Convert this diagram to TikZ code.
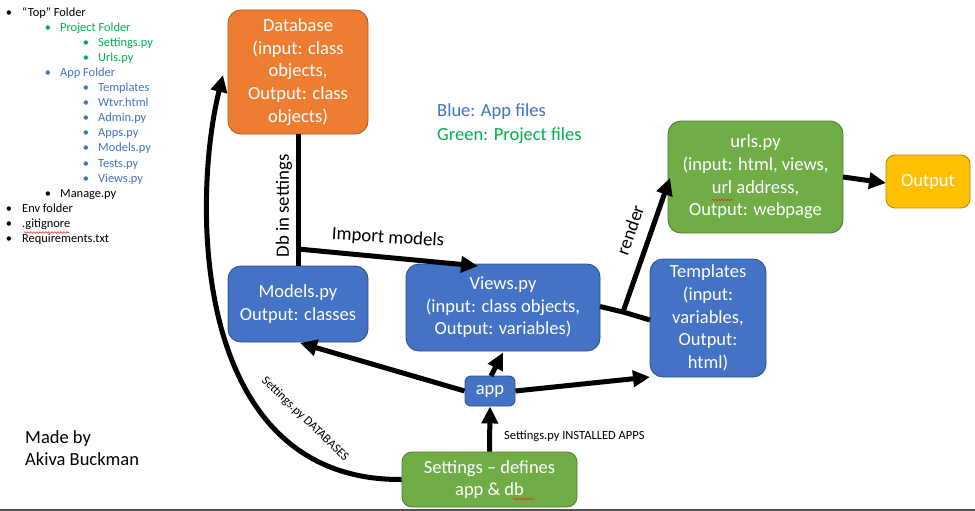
\documentclass[tikz,border=0pt]{standalone}
\usepackage{fontspec}
\setmainfont{Carlito}
\usetikzlibrary{arrows.meta,decorations.pathmorphing}
\definecolor{oran}{HTML}{ED7D31}
\definecolor{oranb}{HTML}{AE5A21}
\definecolor{blu}{HTML}{4472C4}
\definecolor{blub}{HTML}{2F528F}
\definecolor{grn}{HTML}{70AD47}
\definecolor{grnb}{HTML}{507E32}
\definecolor{yel}{HTML}{FFC000}
\definecolor{yelb}{HTML}{BC8C00}
\definecolor{gtext}{HTML}{00B050}
\definecolor{btext}{HTML}{4472C4}
\definecolor{squig}{HTML}{E03030}
\newcommand{\bigfont}{\fontsize{18.5}{22.6}\selectfont}
\newcommand{\midfont}{\fontsize{18.8}{22}\selectfont}
\newcommand{\listfont}{\fontsize{12.4}{15}\selectfont}
\newcommand{\smallfont}{\fontsize{12.5}{14}\selectfont}
\tikzset{
  boxst/.style={draw, line width=0.9pt, rounded corners=13pt, text=white, align=center,
    font=\bigfont, inner sep=0pt},
  conn/.style={line width=5pt, draw=black},
  arr/.style={conn, -{Triangle[length=17pt,width=16pt]}},
  plain/.style={inner sep=0pt},
  wavy/.style={draw=squig, line width=0.6pt, decorate, decoration={snake, amplitude=0.8pt, segment length=3pt}}
}
\begin{document}
\begin{tikzpicture}[x=1pt,y=-1pt]
\useasboundingbox (0,0) rectangle (975,511);
\fill[white] (0,0) rectangle (975,511);
\fill[black!68] (0,508.5) rectangle (975,511);

% ---- folder list ----
\foreach \i/\lev/\col/\txt in {
  0/0/black/{“Top” Folder},
  1/1/gtext/{Project Folder},
  2/2/gtext/{Settings.py},
  3/2/gtext/{Urls.py},
  4/1/btext/{App Folder},
  5/2/btext/{Templates},
  6/2/btext/{Wtvr.html},
  7/2/btext/{Admin.py},
  8/2/btext/{Apps.py},
  9/2/btext/{Models.py},
  10/2/btext/{Tests.py},
  11/2/btext/{Views.py},
  12/1/black/{Manage.py},
  13/0/black/{Env folder},
  14/0/black/{.gitignore},
  15/0/black/{Requirements.txt}}{
  \pgfmathsetmacro{\by}{16.3+15.07*\i}
  \pgfmathsetmacro{\bx}{\lev==0 ? 9 : (\lev==1 ? 48 : 86)}
  \pgfmathsetmacro{\tx}{\lev==0 ? 22 : (\lev==1 ? 60 : 98)}
  \node[plain, anchor=base, text=\col, font=\listfont] (bul\i) at (\bx,\by) {•};
  \node[plain, anchor=base west, text=\col, font=\listfont] (item\i) at (\tx,\by) {\txt};
}
\draw[wavy] (24,232.5) -- (69,232.5);

% ---- legend and author ----
\node[plain, anchor=west, text=btext, font=\bigfont] (legb) at (437,112) {Blue: App files};
\node[plain, anchor=west, text=gtext, font=\bigfont] (legg) at (437,136) {Green: Project files};
\node[plain, anchor=north west, align=left, font=\bigfont] (author) at (25,430) {Made by\\Akiva Buckman};

% ---- boxes ----
\node[boxst, fill=oran, draw=oranb, minimum width=140pt, minimum height=124pt] (db) at (298,72)
  {Database\\(input: class\\objects,\\Output: class\\objects)};
\node[boxst, fill=blu, draw=blub, minimum width=140pt, minimum height=76pt] (models) at (298,304)
  {Models.py\\Output: classes};
\node[boxst, fill=blu, draw=blub, minimum width=194pt, minimum height=87pt] (views) at (503,307.5)
  {Views.py\\(input: class objects,\\Output: variables)};
\node[boxst, fill=blu, draw=blub, minimum width=116pt, minimum height=118pt] (tmpl) at (708,318)
  {Templates\\(input:\\variables,\\Output:\\html)};
\node[boxst, fill=grn, draw=grnb, minimum width=175pt, minimum height=112pt] (urls) at (755.5,177)
  {urls.py\\(input: html, views,\\url address,\\Output: webpage};
\node[boxst, fill=yel, draw=yelb, minimum width=84pt, minimum height=53pt, rounded corners=9pt] (out) at (928,181.5)
  {Output};
\node[boxst, fill=blu, draw=blub, minimum width=50pt, minimum height=30pt, rounded corners=6pt] (app) at (490,391)
  {app};
\node[boxst, fill=grn, draw=grnb, minimum width=175pt, minimum height=55pt, rounded corners=10pt] (set) at (489.5,479.5)
  {Settings – defines\\app \& db};
\draw[wavy] (712,200) -- (733,200);
\draw[wavy] (513,499) -- (534,499);

% ---- connectors ----
\coordinate (jdb) at (298,249);
\draw[conn] (db.south) -- (models.north);
\draw[arr] (jdb) -- (478,266);
\node[plain, font=\midfont, rotate=-3.5] (lblimp) at (388,238) {Import models};
\node[plain, font=\midfont, rotate=90] (lbldb) at (284,206) {Db in settings};

\coordinate (jr) at (623,312);
\draw[conn] (600,306.5) -- (jr) -- (650,320);
\draw[arr] (jr) -- (670,178);
\node[plain, font=\midfont, rotate=70.5] (lblr) at (630,230) {render};

\draw[arr] (843,177) -- (886,183);

\draw[arr] (set.north) -- (app.south);
\node[plain, anchor=west, font=\smallfont] (lblia) at (504,436) {Settings.py INSTALLED APPS};
\draw[arr] (app.west) -- (300,343);
\draw[arr] (app.east) -- (650,377);
\draw[arr] (491,376) -- (503,352.5);

\draw[arr] (set.west) .. controls (190,481) and (192,200) .. (223,75);
\node[plain, font=\smallfont, rotate=-44] (lblsd) at (305,419) {Settings.py DATABASES};
\end{tikzpicture}
\end{document}
